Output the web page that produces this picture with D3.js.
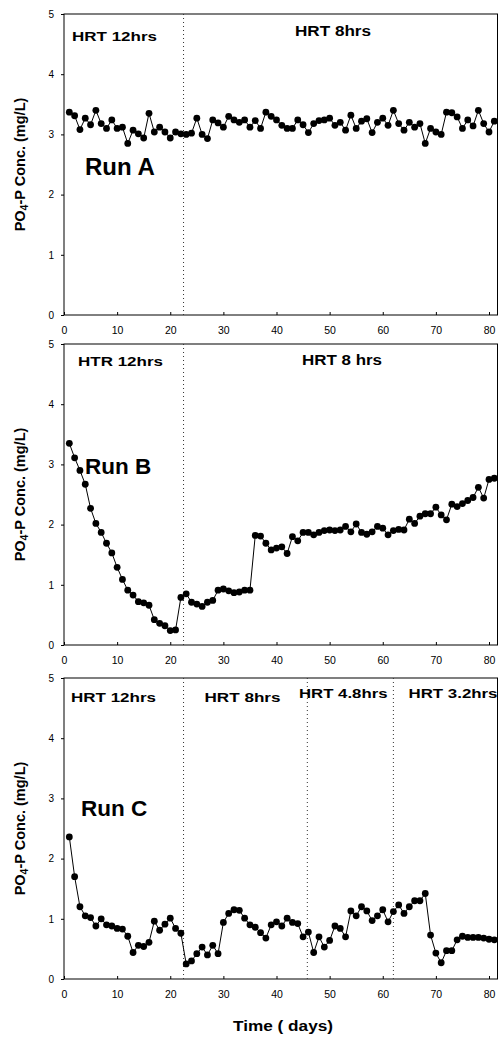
<!DOCTYPE html>
<html>
<head>
<meta charset="utf-8">
<script src="https://cdn.jsdelivr.net/npm/d3@7"></script>
<style>
  html, body { margin: 0; padding: 0; background: #fff; }
  svg { display: block; font-family: "Liberation Sans", Arial, sans-serif; }
</style>
</head>
<body>
<svg id="chart" width="501" height="1037"></svg>
<script>
// ---- data (daily samples, day 1..81) ----
const runA = [3.37,3.31,3.08,3.27,3.16,3.40,3.18,3.10,3.24,3.10,3.12,2.85,3.07,3.01,2.94,3.35,3.04,3.12,3.04,2.94,
  3.04,3.01,3.00,3.02,3.27,3.00,2.93,3.24,3.19,3.12,3.30,3.24,3.20,3.24,3.12,3.23,3.10,3.37,3.30,3.24,
  3.15,3.10,3.10,3.24,3.16,3.03,3.18,3.23,3.24,3.27,3.15,3.20,3.07,3.32,3.10,3.22,3.26,3.03,3.20,3.27,
  3.15,3.40,3.18,3.07,3.20,3.12,3.18,2.85,3.10,3.04,3.00,3.37,3.36,3.29,3.10,3.24,3.14,3.40,3.18,3.04,3.22];
const runB = [3.35,3.11,2.90,2.67,2.27,2.02,1.87,1.69,1.53,1.29,1.09,0.91,0.83,0.72,0.70,0.66,0.42,0.36,0.32,0.24,
  0.25,0.79,0.85,0.71,0.68,0.64,0.71,0.74,0.91,0.93,0.90,0.87,0.88,0.91,0.91,1.82,1.81,1.69,1.58,1.61,
  1.63,1.52,1.80,1.73,1.87,1.87,1.83,1.87,1.90,1.91,1.90,1.91,1.97,1.88,2.01,1.87,1.84,1.88,1.97,1.94,
  1.83,1.90,1.92,1.91,2.09,2.02,2.14,2.18,2.18,2.29,2.16,2.08,2.34,2.30,2.35,2.40,2.45,2.62,2.44,2.75,2.77];
const runC = [2.36,1.70,1.20,1.05,1.02,0.88,1.00,0.90,0.88,0.84,0.83,0.71,0.44,0.56,0.54,0.61,0.96,0.81,0.91,1.01,
  0.84,0.76,0.25,0.30,0.42,0.53,0.40,0.56,0.42,0.94,1.09,1.15,1.14,1.01,0.90,0.86,0.77,0.68,0.90,0.95,
  0.88,1.01,0.94,0.92,0.70,0.78,0.44,0.70,0.53,0.64,0.88,0.84,0.70,1.13,1.05,1.20,1.13,0.97,1.05,1.15,
  0.95,1.12,1.23,1.09,1.20,1.30,1.30,1.42,0.73,0.43,0.27,0.47,0.47,0.65,0.71,0.69,0.69,0.69,0.68,0.66,0.65];

const xTicks = [0,10,20,30,40,50,60,70,80];
const yTicks = [0,1,2,3,4,5];
const runLabels = ["Run A","Run B","Run C"];
const phaseBreaksA = [22.5];
const phaseBreaksB = [22.5];
const phaseBreaksC = [22.5, 45.8, 62];
const phaseLabelsA = ["HRT 12hrs","HRT 8hrs"];
const phaseLabelsB = ["HTR 12hrs","HRT 8 hrs"];
const phaseLabelsC = ["HRT 12hrs","HRT 8hrs","HRT 4.8hrs","HRT 3.2hrs"];
const xTitle = "Time ( days)";

// ---- layout ----
const svg = d3.select("#chart");
const left = 64, right = 497.5;
const x = d3.scaleLinear().domain([0, 81.6]).range([left, right]);

const panels = [
  { values: runA, top: 14, bottom: 315, run: runLabels[0], breaks: phaseBreaksA,
    labels: phaseLabelsA,
    labelPos: [{x:72,y:40.5,len:85,fs:13},{x:295,y:35.5,len:76,fs:14}],
    runPos: {x:85,y:174.5,fs:24} },
  { values: runB, top: 344, bottom: 645, run: runLabels[1], breaks: phaseBreaksB,
    labels: phaseLabelsB,
    labelPos: [{x:78,y:366,len:85,fs:13.5},{x:302,y:365,len:80,fs:14}],
    runPos: {x:85,y:474,fs:22.5} },
  { values: runC, top: 678, bottom: 979, run: runLabels[2], breaks: phaseBreaksC,
    labels: phaseLabelsC,
    labelPos: [{x:71,y:701.5,len:85,fs:13.5},{x:204.5,y:701.5,len:76,fs:13.5},
               {x:299,y:698,len:88.5,fs:13.5},{x:408.5,y:698,len:89,fs:13.5}],
    runPos: {x:81,y:815.5,fs:22.5} }
];

panels.forEach(p => {
  const y = d3.scaleLinear().domain([0,5]).range([p.bottom, p.top]);
  const g = svg.append("g");
  const data = p.values.map((v,i) => ({day: i+1, v}));

  // frame
  g.append("rect").attr("x", left).attr("y", p.top)
    .attr("width", right-left).attr("height", p.bottom-p.top)
    .attr("fill","none").attr("stroke","#000").attr("stroke-width",1);

  // phase separators
  p.breaks.forEach(b => {
    g.append("line").attr("x1", x(b)).attr("x2", x(b))
      .attr("y1", p.top).attr("y2", p.bottom)
      .attr("stroke","#333").attr("stroke-width",1).attr("stroke-dasharray","1,3");
  });

  // axes
  const ya = g.append("g").attr("transform",`translate(${left},0)`)
    .call(d3.axisLeft(y).tickValues(yTicks).tickSizeInner(3).tickSizeOuter(0).tickPadding(7).tickFormat(d3.format("d")));
  ya.select(".domain").remove();
  ya.selectAll("text").attr("font-size",10).attr("fill","#000");
  ya.selectAll("line").attr("stroke","#000");

  const xa = g.append("g").attr("transform",`translate(0,${p.bottom})`)
    .call(d3.axisBottom(x).tickValues(xTicks).tickSizeInner(-3).tickSizeOuter(0).tickPadding(12).tickFormat(d3.format("d")));
  xa.select(".domain").remove();
  xa.selectAll("text").attr("font-size",10.5).attr("fill","#000");
  xa.selectAll("line").attr("stroke","#000");

  // line + markers
  const line = d3.line().x(d => x(d.day)).y(d => y(d.v));
  g.append("path").datum(data).attr("d", line)
    .attr("fill","none").attr("stroke","#000").attr("stroke-width",1);
  g.selectAll("circle").data(data).join("circle")
    .attr("cx", d => x(d.day)).attr("cy", d => y(d.v)).attr("r", 3.4).attr("fill","#000");

  // phase labels
  p.labels.forEach((t,i) => {
    const lp = p.labelPos[i];
    g.append("text").attr("x", lp.x).attr("y", lp.y)
      .attr("font-size", lp.fs).attr("font-weight","bold")
      .attr("textLength", lp.len).attr("lengthAdjust","spacingAndGlyphs")
      .text(t);
  });

  // run label
  g.append("text").attr("x", p.runPos.x).attr("y", p.runPos.y)
    .attr("font-size", p.runPos.fs).attr("font-weight","bold").text(p.run);

  // y title
  const yt = g.append("text")
    .attr("transform", `translate(25,${(p.top+p.bottom)/2}) rotate(-90)`)
    .attr("text-anchor","middle").attr("font-size",14.5).attr("font-weight","bold");
  yt.append("tspan").text("PO");
  yt.append("tspan").attr("font-size",10.5).attr("dy",3).text("4");
  yt.append("tspan").attr("dy",-3).text("-P Conc. (mg/L)");
});

svg.append("text").attr("x", 283).attr("y", 1031)
  .attr("text-anchor","middle").attr("font-size",14.5).attr("font-weight","bold")
  .attr("textLength",100).attr("lengthAdjust","spacingAndGlyphs")
  .text(xTitle);
</script>
</body>
</html>
